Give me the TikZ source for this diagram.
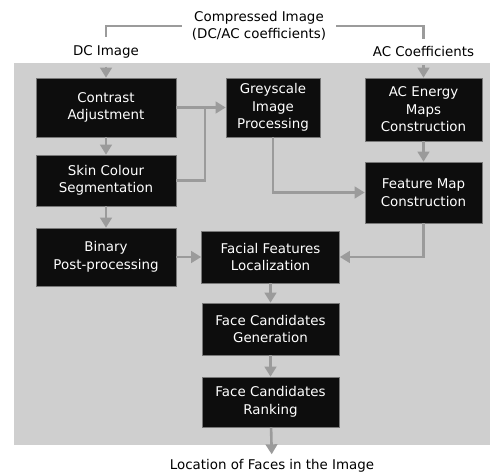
\documentclass[tikz,border=0pt]{standalone}
\usepackage{fontspec}
\setmainfont{DejaVu Sans}
\usepackage{tikz}
\usetikzlibrary{arrows.meta,positioning,calc}
\usepackage{xcolor}
\definecolor{bggray}{RGB}{207,207,207}
\definecolor{linegray}{RGB}{155,155,155}
\definecolor{boxblack}{RGB}{13,13,13}
\definecolor{boxedge}{RGB}{120,120,120}

\begin{document}
\begin{tikzpicture}[x=1pt, y=-1pt,
    font=\fontsize{13.4}{17.5}\selectfont,
    box/.style={rectangle, draw=boxedge, line width=0.6pt, fill=boxblack, text=white, align=center, inner sep=0pt},
    label/.style={align=center, inner sep=2pt},
    link/.style={draw=linegray, line width=2.6pt},
    arrow/.style={link, -{Triangle[width=11.5pt,length=10pt]}}
]
\useasboundingbox (0,0) rectangle (491,474);
\fill[bggray] (14,63) rectangle (490,445);

% processing blocks
\node[box, minimum width=140pt, minimum height=59pt] (contrast) at (106,107.5) {Contrast\\Adjustment};
\node[box, minimum width=94pt, minimum height=59pt] (grey) at (273,107.5) {Greyscale\\Image\\Processing};
\node[box, minimum width=117pt, minimum height=63pt] (acmap) at (423.5,109.5) {AC Energy\\Maps\\Construction};
\node[box, minimum width=140pt, minimum height=51pt] (skin) at (106,180.5) {Skin Colour\\Segmentation};
\node[box, minimum width=117pt, minimum height=61pt] (featmap) at (423.5,192.5) {Feature Map\\Construction};
\node[box, minimum width=140pt, minimum height=58pt] (binary) at (106,257) {Binary\\Post-processing};
\node[box, minimum width=138pt, minimum height=52pt] (facial) at (270.5,257) {Facial Features\\Localization};
\node[box, minimum width=137pt, minimum height=52pt] (gen) at (270.5,329) {Face Candidates\\Generation};
\node[box, minimum width=137pt, minimum height=50pt] (rank) at (270.5,402) {Face Candidates\\Ranking};

% inputs and output
\node[label, inner xsep=10pt] (cimg) at (259,26) {Compressed Image\\(DC/AC coefficients)};
\node[label] (dcimg) at (106,52) {DC Image};
\node[label] (acimg) at (423.5,52) {AC Coefficients};
\node[label] (faces) at (272,466) {Location of Faces in the Image};
\coordinate (join) at (205,107.5);

\draw[link, shorten >=6pt] (cimg.west) -| (dcimg.north);
\draw[link, shorten >=6pt] (cimg.east) -| (acimg.north);
\draw[arrow, shorten <=6pt] (dcimg) -- (contrast);
\draw[arrow, shorten <=6pt] (acimg) -- (acmap);

\draw[arrow] (contrast) -- (skin);
\draw[arrow] (skin) -- (binary);
\draw[arrow] (contrast) -- (grey);
\draw[link] (skin.east) -| (join);
\draw[arrow] (acmap) -- (featmap);
\draw[arrow] (grey.south) |- (featmap.west);
\draw[arrow] (featmap.south) |- (facial.east);
\draw[arrow] (binary) -- (facial);
\draw[arrow] (facial) -- (gen);
\draw[arrow] (gen) -- (rank);
\draw[arrow, shorten >=3pt] (rank) -- (faces);
\end{tikzpicture}
\end{document}
